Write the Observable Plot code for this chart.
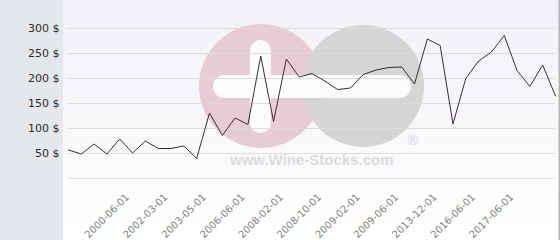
<!DOCTYPE html>
<html>
<head>
<meta charset="utf-8">
<script src="https://cdn.jsdelivr.net/npm/d3@7"></script>
<script src="https://cdn.jsdelivr.net/npm/@observablehq/plot@0.6"></script>
<style>
  html, body { margin: 0; padding: 0; background: #fff; }
  #wrap { position: relative; width: 560px; height: 240px; background: #e4e8ec; overflow: hidden; }
  #panel { position: absolute; left: 63px; top: 0; width: 495px; height: 240px;
    background: linear-gradient(#f1f2f6 0%, #f8f8fb 55%, #fdfdfe 80%, #ffffff 100%);
    border-right: 1px solid #d6d6d6; box-shadow: 1px 0 0 #b4b4b4; }
  #mark { position: absolute; left: 0; top: 0; }
  #chart { position: absolute; left: 0; top: 0; }
</style>
</head>
<body>
<div id="wrap">
  <div id="panel"></div>
  <svg id="mark" width="560" height="240">
    <circle cx="261" cy="86" r="62" fill="#e8ccd3"/>
    <circle cx="363" cy="86" r="61" fill="#d5d5d7"/>
    <rect x="250" y="40" width="21" height="93" rx="10.5" fill="#fdfdfe"/>
    <rect x="213" y="75" width="118" height="23" rx="11.5" fill="#fdfdfe"/>
    <rect x="316" y="75" width="95" height="23" rx="11.5" fill="#fbfbfc"/>
    <text x="413" y="145" font-family="Liberation Sans, Arial, sans-serif" font-size="14" fill="#d2d2d4" text-anchor="middle">®</text>
    <text x="230" y="165" font-family="Liberation Sans, Arial, sans-serif" font-weight="bold" font-size="15" fill="#dadadc">www.Wine-Stocks.com</text>
  </svg>
  <div id="chart"></div>
</div>
<script>
const prices = [57, 49, 69, 49, 79, 51, 75, 60, 60, 65,
                40, 131, 86, 121, 108, 245, 114, 239, 203, 210,
                195, 178, 181, 208, 217, 222, 223, 189, 279, 266,
                109, 200, 235, 253, 286, 216, 184, 227, 165];
// Date labels shown on the axis (blank where the reference shows none)
const dateLabels = ["", "", "", "", "", "2000-06-01", "", "", "2002-03-01", "",
                    "", "2003-05-01", "", "", "2006-06-01", "", "", "2008-02-01", "", "",
                    "2008-10-01", "", "", "2009-02-01", "", "", "2009-06-01", "", "",
                    "2013-12-01", "", "", "2016-06-01", "", "", "2017-06-01", "", "", ""];
const yTicks = [50, 100, 150, 200, 250, 300];
const yGrid = [0, 50, 100, 150, 200, 250, 300];

const data = prices.map((p, i) => ({i, p}));
const xTicks = dateLabels.map((d, i) => d ? i : null).filter(v => v !== null);

const chart = Plot.plot({
  width: 560,
  height: 240,
  marginLeft: 68,
  marginRight: 5,
  marginTop: 28,
  marginBottom: 62,
  style: {background: "transparent", fontFamily: "DejaVu Sans, sans-serif", overflow: "visible"},
  x: {domain: [0, prices.length - 1]},
  y: {domain: [0, 300]},
  marks: [
    Plot.gridY(yGrid, {stroke: "#dcdcdc", strokeOpacity: 1, strokeWidth: 1}),
    Plot.axisY(yTicks, {tickSize: 0, tickPadding: 9, tickFormat: d => d + " $", fontSize: 11, fill: "#2a2a2a", label: null}),
    Plot.axisX(xTicks, {tickSize: 0, tickPadding: 17, dx: -5, tickRotate: -45, tickFormat: i => dateLabels[i], fontSize: 10, fill: "#808080", label: null}),
    Plot.line(data, {x: "i", y: "p", stroke: "#3b2a33", strokeWidth: 1})
  ]
});
document.getElementById("chart").appendChild(chart);
</script>
</body>
</html>
